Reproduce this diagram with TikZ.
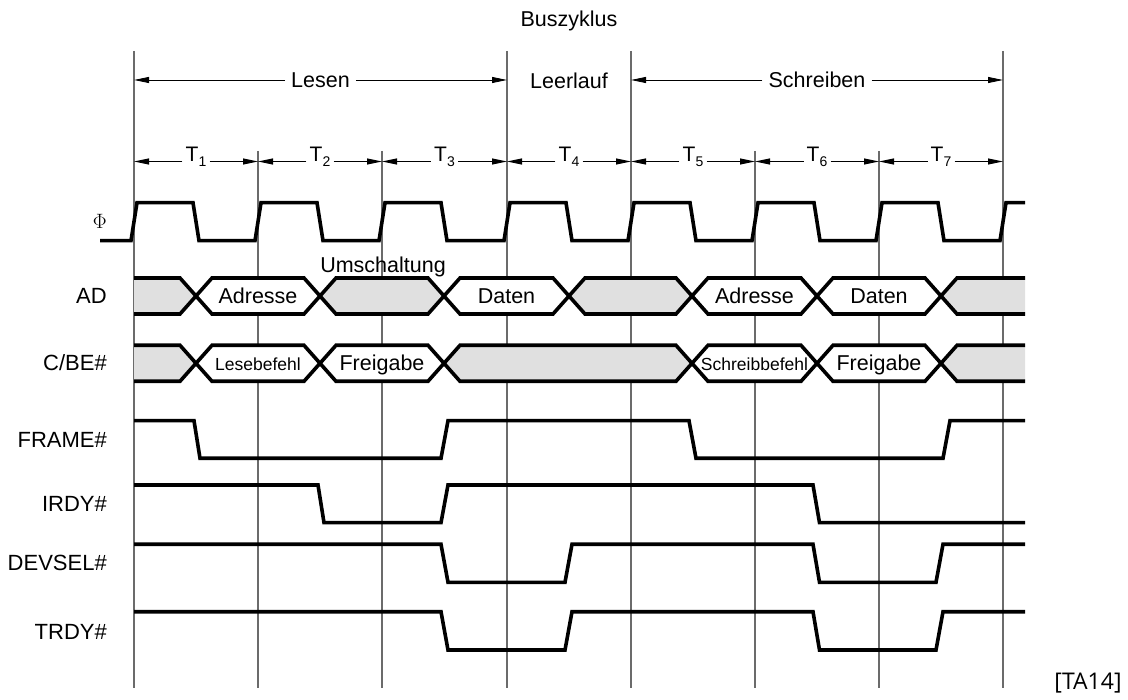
\documentclass[tikz,border=0pt]{standalone}
\usepackage{fontspec}
\setmainfont{Liberation Sans}
\newfontfamily\reffont{Open Sans}
\usepackage{tikz}
\usetikzlibrary{calc,arrows.meta}
\definecolor{busgray}{gray}{0.88}
\definecolor{gridgray}{gray}{0.42}
\newcommand{\Tcyc}[1]{T\raisebox{-5pt}{\fontsize{14}{14}\selectfont#1}}

\begin{document}
\begin{tikzpicture}[x=1pt,y=-1pt,
  sig/.style={line width=3.6pt},
  grid/.style={draw=gridgray,line width=1.2pt},
  dim/.style={line width=0.9pt,-{Triangle[length=15pt,width=6pt]}},
  txt/.style={font=\fontsize{21.5}{24}\selectfont,text height=15.4pt,text depth=0pt,inner sep=6pt},
  small/.style={font=\fontsize{17.5}{20}\selectfont,text height=14pt,text depth=0pt,inner sep=0pt},
  tlab/.style={font=\fontsize{21}{24}\selectfont,inner sep=3pt,anchor=base},
  lbl/.style={font=\fontsize{22}{24}\selectfont,text height=15.8pt,text depth=0pt,anchor=east,inner sep=0pt}]
  \useasboundingbox (0,0) rectangle (1128,700);
  \foreach \i/\x/\yt in {0/134/51,1/258/151,2/382/151,3/507/51,4/631/51,5/755/151,6/879/151,7/1003/51}{
    \coordinate (top\i) at (\x,\yt);
    \coordinate (bot\i) at (\x,688);
    \coordinate (ph\i) at (\x,80);
    \coordinate (cy\i) at (\x,161.5);
    \draw[grid] (top\i) -- (bot\i);
  }
  \node[txt] (buszyklus) at (569,19) {Buszyklus};
  \node[txt] (lesen) at (320.5,80) {Lesen};
  \node[txt] (leerlauf) at (569,80.5) {Leerlauf};
  \node[txt] (schreiben) at (817,80) {Schreiben};
  \draw[dim] (lesen) -- (ph0);
  \draw[dim] (lesen) -- (ph3);
  \draw[dim] (schreiben) -- (ph4);
  \draw[dim] (schreiben) -- (ph7);
  \foreach \i/\j/\n in {0/1/1,1/2/2,2/3/3,3/4/4,4/5/5,5/6/6,6/7/7}{
    \node[tlab] (t\n) at ($(cy\i)!0.5!(cy\j)$) {\Tcyc{\n}};
    \draw[dim] (t\n.base west) -- (cy\i);
    \draw[dim] (t\n.base east) -- (cy\j);
  }

  \node[lbl,font=\fontsize{22}{24}\selectfont] (phi) at (107,221) {$\Phi$};
  \node[lbl] (ad) at (107,296) {AD};
  \node[lbl] (cbe) at (107,363) {C/BE\#};
  \node[lbl] (frame) at (107,440) {FRAME\#};
  \node[lbl] (irdy) at (107,504) {IRDY\#};
  \node[lbl] (devsel) at (107,563) {DEVSEL\#};
  \node[lbl] (trdy) at (107,632) {TRDY\#};

  \draw[sig] (100,240.7) \foreach \x in {134,258,382,507,631,755,879}{
      -- (\x-3,240.7) -- (\x+3,202.7) -- (\x+59,202.7) -- (\x+65,240.7)}
    -- (1000,240.7) -- (1006,202.7) -- (1025,202.7);

  \foreach \m in {296,363.3}{
    \fill[busgray] (134,\m-18) -- (180,\m-18) -- (196,\m) -- (180,\m+18) -- (134,\m+18) -- cycle;
    \draw[sig] (134,\m-18) -- (180,\m-18) -- (196,\m) -- (180,\m+18) -- (134,\m+18);
    \fill[busgray] (1025,\m-18) -- (957,\m-18) -- (941,\m) -- (957,\m+18) -- (1025,\m+18) -- cycle;
    \draw[sig] (1025,\m-18) -- (957,\m-18) -- (941,\m) -- (957,\m+18) -- (1025,\m+18);
  }
  \foreach \a/\b/\m in {320/444/296,569/692/296,444/692/363.3}
    \filldraw[sig,fill=busgray] (\a,\m) -- (\a+16,\m-18) -- (\b-16,\m-18) -- (\b,\m)
      -- (\b-16,\m+18) -- (\a+16,\m+18) -- cycle;
  \foreach \n/\a/\b/\m/\s/\w in {1/196/320/296/txt/Adresse,2/444/569/296/txt/Daten,
      3/692/817/296/txt/Adresse,4/817/941/296/txt/Daten,5/196/320/363.3/small/Lesebefehl,
      6/320/444/363.3/txt/Freigabe,7/692/817/363.3/small/Schreibbefehl,8/817/941/363.3/txt/Freigabe}{
    \filldraw[sig,fill=white] (\a,\m) -- (\a+16,\m-18) -- (\b-16,\m-18) -- (\b,\m)
      -- (\b-16,\m+18) -- (\a+16,\m+18) -- cycle;
    \node[\s] (bus\n) at ({(\a+\b)/2},\m) {\w};
  }
  \node[txt,anchor=base,inner sep=0pt] (umsch) at (383,273) {Umschaltung};

  \draw[sig] (134,420.7) -- (194,420.7) -- (200,458.3) -- (441,458.3) -- (448,420.7)
    -- (689,420.7) -- (696,458.3) -- (943,458.3) -- (950,420.7) -- (1025,420.7);
  \draw[sig] (134,485) -- (318,485) -- (324,522.7) -- (441,522.7) -- (448,485)
    -- (813,485) -- (819.5,522.7) -- (1025,522.7);
  \foreach \h/\l in {544.3/582.3,611.7/650}
    \draw[sig] (134,\h) -- (441,\h) -- (448,\l) -- (565,\l) -- (572,\h)
      -- (813,\h) -- (819.5,\l) -- (936,\l) -- (943,\h) -- (1025,\h);

  \node[font={\fontsize{23}{26}\selectfont\reffont},inner sep=0pt] (src) at (1088,683) {[TA14]};
\end{tikzpicture}
\end{document}
